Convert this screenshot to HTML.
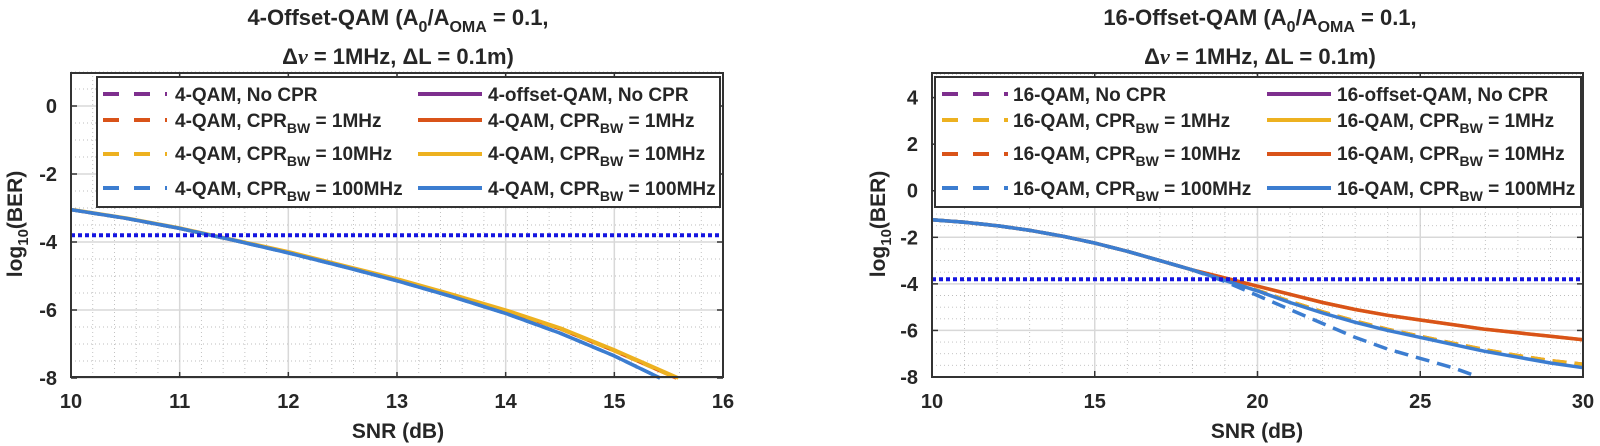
<!DOCTYPE html>
<html><head><meta charset="utf-8"><style>
html,body{margin:0;padding:0;background:#fff}
svg{display:block}
text{font-family:"Liberation Sans",sans-serif;font-weight:bold;fill:#262626}
</style></head><body>
<svg id="s" width="1600" height="446" viewBox="0 0 1600 446" xmlns="http://www.w3.org/2000/svg">
<g id="grid"></g>
<g id="curves"></g>
<rect x="71" y="73" width="652" height="304" fill="none" stroke="#333" stroke-width="2"/>
<rect x="932" y="73" width="651" height="304" fill="none" stroke="#333" stroke-width="2"/>
<g id="ticks"></g>
<rect x="97" y="77" width="623" height="130" fill="#fff" stroke="#333" stroke-width="2"/>
<rect x="935" y="77" width="646" height="130" fill="#fff" stroke="#333" stroke-width="2"/>
<g id="leg"></g>
<g font-size="19">
<text x="175" y="101">4-QAM, No CPR</text>
<text x="175" y="127">4-QAM, CPR<tspan font-size="14" dy="6">BW</tspan><tspan dy="-6"> = 1MHz</tspan></text>
<text x="175" y="160">4-QAM, CPR<tspan font-size="14" dy="6">BW</tspan><tspan dy="-6"> = 10MHz</tspan></text>
<text x="175" y="195">4-QAM, CPR<tspan font-size="14" dy="6">BW</tspan><tspan dy="-6"> = 100MHz</tspan></text>
<text x="488" y="101">4-offset-QAM, No CPR</text>
<text x="488" y="127">4-QAM, CPR<tspan font-size="14" dy="6">BW</tspan><tspan dy="-6"> = 1MHz</tspan></text>
<text x="488" y="160">4-QAM, CPR<tspan font-size="14" dy="6">BW</tspan><tspan dy="-6"> = 10MHz</tspan></text>
<text x="488" y="195">4-QAM, CPR<tspan font-size="14" dy="6">BW</tspan><tspan dy="-6"> = 100MHz</tspan></text>
<text x="1013" y="101">16-QAM, No CPR</text>
<text x="1013" y="127">16-QAM, CPR<tspan font-size="14" dy="6">BW</tspan><tspan dy="-6"> = 1MHz</tspan></text>
<text x="1013" y="160">16-QAM, CPR<tspan font-size="14" dy="6">BW</tspan><tspan dy="-6"> = 10MHz</tspan></text>
<text x="1013" y="195">16-QAM, CPR<tspan font-size="14" dy="6">BW</tspan><tspan dy="-6"> = 100MHz</tspan></text>
<text x="1337" y="101">16-offset-QAM, No CPR</text>
<text x="1337" y="127">16-QAM, CPR<tspan font-size="14" dy="6">BW</tspan><tspan dy="-6"> = 1MHz</tspan></text>
<text x="1337" y="160">16-QAM, CPR<tspan font-size="14" dy="6">BW</tspan><tspan dy="-6"> = 10MHz</tspan></text>
<text x="1337" y="195">16-QAM, CPR<tspan font-size="14" dy="6">BW</tspan><tspan dy="-6"> = 100MHz</tspan></text>
</g>
<g font-size="22" text-anchor="middle">
<text x="398" y="25">4-Offset-QAM (A<tspan font-size="16" dy="7">0</tspan><tspan dy="-7">/A</tspan><tspan font-size="16" dy="7">OMA</tspan><tspan dy="-7"> = 0.1,</tspan></text>
<text x="398" y="64">Δ<tspan font-style="italic" font-family="Liberation Serif">ν</tspan> = 1MHz, ΔL = 0.1m)</text>
<text x="1260" y="25">16-Offset-QAM (A<tspan font-size="16" dy="7">0</tspan><tspan dy="-7">/A</tspan><tspan font-size="16" dy="7">OMA</tspan><tspan dy="-7"> = 0.1,</tspan></text>
<text x="1260" y="64">Δ<tspan font-style="italic" font-family="Liberation Serif">ν</tspan> = 1MHz, ΔL = 0.1m)</text>
</g>
<g font-size="21" text-anchor="middle">
<text x="398" y="438">SNR (dB)</text>
<text x="1257" y="438">SNR (dB)</text>
<text transform="translate(22,224) rotate(-90)">log<tspan font-size="15" dy="6">10</tspan><tspan dy="-6">(BER)</tspan></text>
<text transform="translate(885,224) rotate(-90)">log<tspan font-size="15" dy="6">10</tspan><tspan dy="-6">(BER)</tspan></text>
</g>
</svg>
<script>
var NS="http://www.w3.org/2000/svg";
function el(p,t,a,txt){var e=document.createElementNS(NS,t);for(var k in a)e.setAttribute(k,a[k]);if(txt!==undefined)e.textContent=txt;document.getElementById(p).appendChild(e);return e;}
var A=[{x0:71,x1:723,s0:10,s1:16,y0:378,y1:72,v0:-8,v1:1,xt:[10,11,12,13,14,15,16],xm:0.2,yt:[-8,-6,-4,-2,0],ym:0.5},
       {x0:932,x1:1583,s0:10,s1:30,y0:377,y1:72,v0:-8,v1:5.1,xt:[10,15,20,25,30],xm:1,yt:[-8,-6,-4,-2,0,2,4],ym:0.5}];
A.forEach(function(a){a.X=function(s){return a.x0+(s-a.s0)*(a.x1-a.x0)/(a.s1-a.s0)};a.Y=function(v){return a.y0-(v-a.v0)*(a.y0-a.y1)/(a.v1-a.v0)};
 for(var s=a.s0;s<=a.s1+1e-9;s+=a.xm){var x=a.X(s);var maj=a.xt.some(function(t){return Math.abs(t-s)<1e-6});
  el("grid","line",{x1:x,x2:x,y1:a.y1,y2:a.y0,stroke:maj?"#d8d8d8":"#bdbdbd","stroke-width":maj?1.5:0.9,"stroke-dasharray":maj?"":"1,3"});}
 for(var v=a.v0;v<=a.v1+1e-9;v+=a.ym){var y=a.Y(v);var maj=a.yt.some(function(t){return Math.abs(t-v)<1e-6});
  el("grid","line",{x1:a.x0,x2:a.x1,y1:y,y2:y,stroke:maj?"#d8d8d8":"#bdbdbd","stroke-width":maj?1.5:0.9,"stroke-dasharray":maj?"":"1,3"});}
 a.xt.forEach(function(t){var x=a.X(t);el("ticks","line",{x1:x,x2:x,y1:a.y0,y2:a.y0-6,stroke:"#333","stroke-width":1.5});el("ticks","line",{x1:x,x2:x,y1:a.y1,y2:a.y1+6,stroke:"#333","stroke-width":1.5});
  el("ticks","text",{x:x,y:408,"text-anchor":"middle","font-size":"20"},String(t));});
 a.yt.forEach(function(t){var y=a.Y(t);el("ticks","line",{x1:a.x0,x2:a.x0+6,y1:y,y2:y,stroke:"#333","stroke-width":1.5});el("ticks","line",{x1:a.x1,x2:a.x1-6,y1:y,y2:y,stroke:"#333","stroke-width":1.5});
  el("ticks","text",{x:a.x0-14,y:y+7,"text-anchor":"end","font-size":"20"},String(t));});
});
function path(a,pts,col,dash,w){var d=pts.map(function(p,i){return (i?"L":"M")+a.X(p[0]).toFixed(1)+","+a.Y(p[1]).toFixed(1)}).join("");
 el("curves","path",{d:d,fill:"none",stroke:col,"stroke-width":w||3.5,"stroke-dasharray":dash||"","stroke-linejoin":"round"});}
var P="#7E2F8E",O="#D95319",Y="#EDB120",B="#3C7DD0";
var L=A[0],R=A[1];
var lc=[[10,-3.05],[10.5,-3.3],[11,-3.6],[11.5,-3.95],[12,-4.3],[12.5,-4.7],[13,-5.1],[13.5,-5.55],[14,-6.02],[14.5,-6.55],[15,-7.2],[15.57,-8]];
var lb=[[10,-3.05],[10.5,-3.3],[11,-3.6],[11.5,-3.95],[12,-4.32],[12.5,-4.72],[13,-5.14],[13.5,-5.6],[14,-6.1],[14.5,-6.68],[15,-7.35],[15.42,-8]];
path(L,lc,O);path(L,lc,Y,"12,6");path(L,lc.map(function(p){return[p[0]+0.02,p[1]]}),Y);path(L,lb,B,"12,6");path(L,lb,B);
var cm=[[10,-1.25],[11,-1.35],[12,-1.5],[13,-1.7],[14,-1.95],[15,-2.25],[16,-2.6],[17,-3.0],[18,-3.4]];
var ro=cm.concat([[19,-3.75],[20,-4.1],[21,-4.45],[22,-4.8],[23,-5.1],[24,-5.35],[25,-5.55],[26,-5.75],[27,-5.95],[28,-6.1],[29,-6.25],[30,-6.4]]);
var rb=cm.concat([[19,-3.85],[20,-4.3],[21,-4.8],[22,-5.25],[23,-5.65],[24,-6.0],[25,-6.3],[26,-6.6],[27,-6.9],[28,-7.15],[29,-7.4],[30,-7.6]]);
var ry=cm.concat([[19,-3.85],[20,-4.28],[21,-4.75],[22,-5.2],[23,-5.6],[24,-5.95],[25,-6.25],[26,-6.55],[27,-6.83],[28,-7.08],[29,-7.3],[30,-7.45]]);
var rbd=cm.concat([[19,-3.9],[20,-4.5],[21,-5.1],[22,-5.7],[23,-6.3],[24,-6.8],[25,-7.2],[26,-7.6],[26.8,-8]]);
path(R,ry,O,"14,8");path(R,ry,Y,"14,8");path(R,ro,Y);path(R,ro,O);path(R,rbd,B,"14,8");path(R,rb,B);
[L,R].forEach(function(a){var y=a.Y(-3.8);el("curves","line",{x1:a.x0,x2:a.x1,y1:y,y2:y,stroke:"#1515e0","stroke-width":4,"stroke-dasharray":"4,3"});});
function ls(x1,x2,y,c,d){el("leg","line",{x1:x1,x2:x2,y1:y,y2:y,stroke:c,"stroke-width":4,"stroke-dasharray":d||""});}
var rows=[94,120,154,188];
var lcols=[P,O,Y,B],rcols=[P,Y,O,B];
rows.forEach(function(y,i){ls(103,167,y,lcols[i],"16,15");ls(418,482,y,lcols[i]);ls(942,1008,y,rcols[i],"16,15");ls(1267,1331,y,rcols[i]);});
</script>
</body></html>
